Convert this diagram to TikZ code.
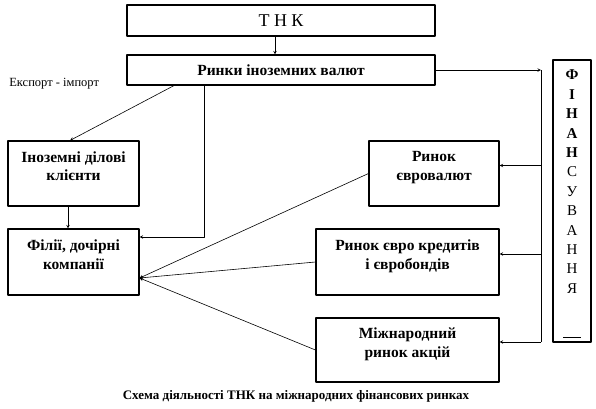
\documentclass[tikz,border=0pt]{standalone}
\usepackage{fontspec}
\setmainfont{Liberation Serif}
\usetikzlibrary{positioning}
\begin{document}
\begin{tikzpicture}[x=1pt,y=-1pt,line join=round,>=stealth,semithick]
	\tikzset{every node/.style={inner sep=0pt,align=center},
		box/.style={draw,line width=1.1pt},
		lbl/.style={font=\fontsize{15.5}{18.5}\selectfont\bfseries},
		twoline/.style={text depth=15pt}}
	\useasboundingbox (0,0) rectangle (596,408);
	% top blocks
	\node[box,minimum width=308pt,minimum height=31pt,font=\fontsize{18}{20}\selectfont] (tnk) at (281,20.5) {Т Н К};
	\node[box,lbl,minimum width=308pt,minimum height=30pt] (rynky) at (281,70) {Ринки іноземних валют};
	\node[anchor=west,font=\fontsize{12.5}{14}\selectfont] (eksport) at (9,84) {Експорт - імпорт};
	% left blocks
	\node[box,lbl,twoline,minimum width=131pt,minimum height=65pt] (inoz) at (73.5,173.5) {Іноземні ділові\\клієнти};
	\node[box,lbl,twoline,minimum width=131pt,minimum height=66pt] (filii) at (73.5,262) {Філії, дочірні\\компанії};
	% right blocks
	\node[box,lbl,twoline,minimum width=130pt,minimum height=65pt] (yevro) at (434,173.5) {Ринок\\євровалют};
	\node[box,lbl,twoline,minimum width=183pt,minimum height=66pt] (kred) at (407.5,262) {Ринок євро кредитів\\і євробондів};
	\node[box,lbl,twoline,minimum width=183pt,minimum height=64pt] (akcij) at (407.5,350) {Міжнародний\\ринок акцій};
	\node[box,minimum width=38pt,minimum height=282pt] (fin) at (572,201) {};
	\foreach \l [count=\i] in {Ф,І,Н,А,Н}
	\node[font=\fontsize{15}{17}\selectfont\bfseries] (fin-b\i) at (572,{75+19.4*(\i-1)}) {\l};
	\foreach \l [count=\i] in {С,У,В,А,Н,Н,Я}
	\node[font=\fontsize{15}{17}\selectfont] (fin-r\i) at (572,{172+19.4*(\i-1)}) {\l};
	\draw[thick] (563,337) -- (581,337);
	% connectors
	\coordinate (busTop) at (541,70);
	\coordinate (busBot) at (541,342);
	\draw[->] ([xshift=-6pt]tnk.south) -- ([xshift=-6pt]rynky.north);
	\draw[->] ([xshift=-107pt]rynky.south) -- ([xshift=-3.5pt]inoz.north);
	\draw[->] ([xshift=-77pt]rynky.south) |- ([yshift=25pt]filii.east);
	\draw[->] ([xshift=-5.5pt]inoz.south) -- ([xshift=-5.5pt]filii.north);
	\draw[->] (rynky.east) -- (busTop);
	\draw (busTop) -- (busBot);
	\foreach \dst in {yevro,kred,akcij}{
		\coordinate (\dst-in) at ([yshift=8pt]\dst.east);
		\draw[->] (busTop |- \dst-in) -- (\dst-in);
	}
	\foreach \src in {yevro,kred,akcij}
	\draw[->] (\src.west) -- ([yshift=-16pt]filii.east);
	% caption
	\node[font=\fontsize{13}{15}\selectfont\bfseries] (caption) at (296,396) {Схема діяльності ТНК на міжнародних фінансових ринках};
\end{tikzpicture}
\end{document}
